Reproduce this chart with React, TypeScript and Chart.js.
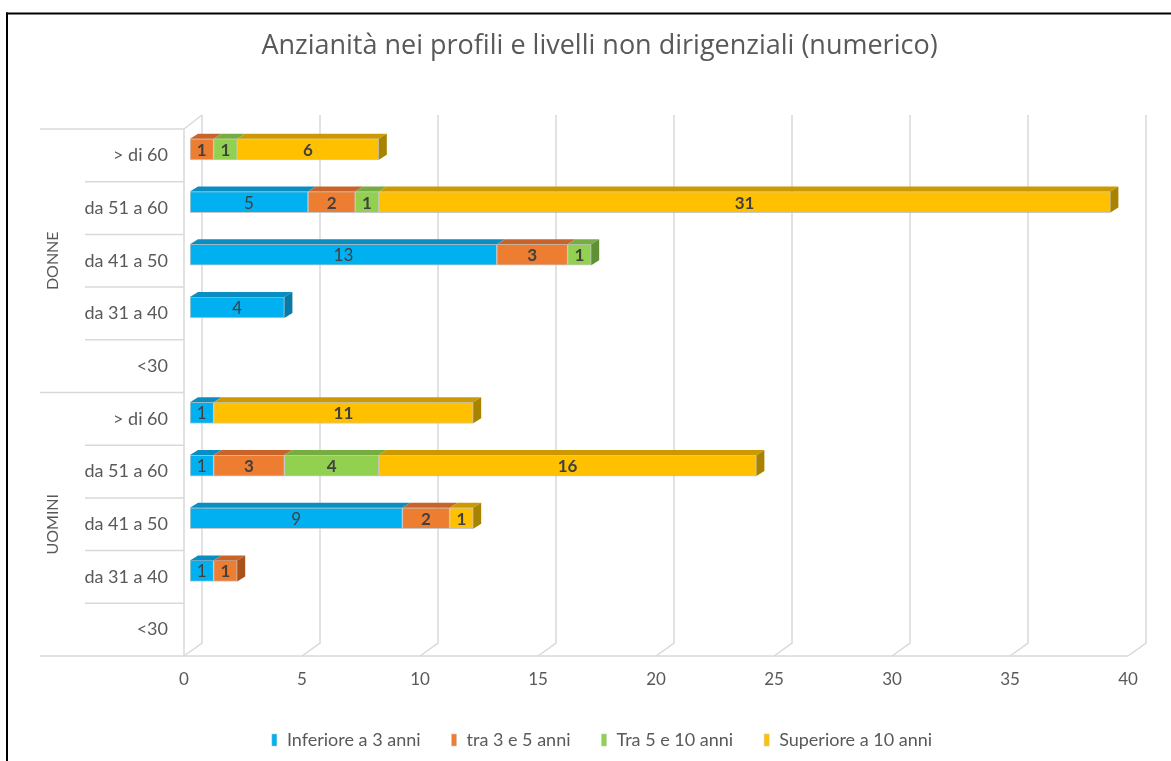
import React, { useEffect, useRef } from "react";
import { Chart, registerables } from "chart.js";

Chart.register(...registerables);

// ---------- data ----------
const categories = [
  "> di 60", "da 51 a 60", "da 41 a 50", "da 31 a 40", "<30",
  "> di 60", "da 51 a 60", "da 41 a 50", "da 31 a 40", "<30",
];
const groups = ["DONNE", "UOMINI"];
const seriesNames = ["Inferiore a 3 anni", "tra 3 e 5 anni", "Tra 5 e 10 anni", "Superiore a 10 anni"];
const inferiore3 = [0, 5, 13, 4, 0, 1, 1, 9, 1, 0];
const tra3e5 = [1, 2, 3, 0, 0, 0, 3, 2, 1, 0];
const tra5e10 = [1, 1, 1, 0, 0, 0, 4, 0, 0, 0];
const superiore10 = [6, 31, 0, 0, 0, 11, 16, 1, 0, 0];
const xTicks = [0, 5, 10, 15, 20, 25, 30, 35, 40];
const titleText = "Anzianità nei profili e livelli non dirigenziali (numerico)";

// ---------- styles ----------
const FONT = "Lato, 'Open Sans', 'Liberation Sans', sans-serif";
const TITLE_FONT = "'Open Sans', Lato, sans-serif";
const faceColors = ["#00B0F0", "#ED7D31", "#92D050", "#FFC000"];
const topColors = ["#0A8EC2", "#C8642A", "#76AC40", "#CC9A00"];
const sideColors = ["#077AA8", "#A8531C", "#609035", "#A88300"];
const labelBold = [false, true, true, true];
const GRID = "#D9D9D9";
const TEXT = "#595959";

const WALL_DX = 18;
const WALL_DY = 13;
const FRONT_SHIFT = 6; // bars sit 6px behind the front edge
const ROW_SHIFT = 6; // rows are 6px lower than bar centers
const BAR_DX = 8;
const BAR_DY = 5;

const framePlugin = {
  id: "frame3d",
  beforeDatasetsDraw(chart: any) {
    const { ctx, chartArea, scales } = chart;
    const x = scales.x;
    const rows = categories.length;
    const rowH = chartArea.height / rows;
    const frontTop = chartArea.top + ROW_SHIFT;
    const frontBot = frontTop + rows * rowH;
    const backTop = frontTop - WALL_DY - 1;
    const backBot = frontBot - WALL_DY;
    ctx.save();
    ctx.strokeStyle = GRID;
    ctx.lineWidth = 1.5;
    xTicks.forEach((v) => {
      const fx = x.getPixelForValue(v) - FRONT_SHIFT;
      const bx = fx + WALL_DX;
      ctx.beginPath();
      ctx.moveTo(bx, backTop);
      ctx.lineTo(bx, backBot);
      ctx.lineTo(fx, frontBot);
      ctx.stroke();
    });
    const fx0 = x.getPixelForValue(xTicks[0]) - FRONT_SHIFT;
    const fxN = x.getPixelForValue(xTicks[xTicks.length - 1]) - FRONT_SHIFT;
    ctx.beginPath();
    ctx.moveTo(fx0 + WALL_DX, backTop);
    ctx.lineTo(fx0, frontTop);
    ctx.lineTo(fx0, frontBot);
    ctx.lineTo(fxN, frontBot);
    ctx.stroke();
    // category separators
    for (let i = 0; i <= rows; i++) {
      const y = frontTop + i * rowH;
      const xs = i % 5 === 0 ? 40 : 85;
      ctx.beginPath();
      ctx.moveTo(xs, y);
      ctx.lineTo(fx0, y);
      ctx.stroke();
    }
    // group labels
    ctx.fillStyle = TEXT;
    ctx.font = `16px ${FONT}`;
    ctx.textAlign = "center";
    ctx.textBaseline = "middle";
    groups.forEach((g, gi) => {
      const cy = frontTop + (gi * 5 + 2.5) * rowH;
      ctx.save();
      ctx.translate(53, cy);
      ctx.rotate(-Math.PI / 2);
      ctx.fillText(g, 0, 0);
      ctx.restore();
    });
    ctx.restore();
  },
  afterDatasetsDraw(chart: any) {
    const { ctx } = chart;
    const n = chart.data.datasets.length;
    const rows = categories.length;
    ctx.save();
    for (let i = 0; i < rows; i++) {
      let last = -1;
      for (let d = 0; d < n; d++) {
        const v = chart.data.datasets[d].data[i];
        if (v != null && v > 0) last = d;
      }
      for (let d = 0; d < n; d++) {
        const v = chart.data.datasets[d].data[i];
        if (v == null || v <= 0) continue;
        const el = chart.getDatasetMeta(d).data[i];
        const p = el.getProps(["x", "y", "base", "height"], true);
        const x0 = Math.min(p.x, p.base);
        const x1 = Math.max(p.x, p.base);
        const t = p.y - p.height / 2;
        const b = p.y + p.height / 2;
        ctx.fillStyle = topColors[d];
        ctx.beginPath();
        ctx.moveTo(x0, t);
        ctx.lineTo(x1, t);
        ctx.lineTo(x1 + BAR_DX, t - BAR_DY);
        ctx.lineTo(x0 + BAR_DX, t - BAR_DY);
        ctx.closePath();
        ctx.fill();
        if (d === last) {
          ctx.fillStyle = sideColors[d];
          ctx.beginPath();
          ctx.moveTo(x1, t);
          ctx.lineTo(x1 + BAR_DX, t - BAR_DY);
          ctx.lineTo(x1 + BAR_DX, b - BAR_DY);
          ctx.lineTo(x1, b);
          ctx.closePath();
          ctx.fill();
        }
        ctx.fillStyle = "#404040";
        ctx.font = `${labelBold[d] ? "bold " : ""}17px ${FONT}`;
        ctx.textAlign = "center";
        ctx.textBaseline = "middle";
        ctx.fillText(String(v), (x0 + x1) / 2, p.y + 1);
      }
    }
    ctx.restore();
  },
  afterDraw(chart: any) {
    const { ctx } = chart;
    ctx.save();
    // outer frame
    ctx.fillStyle = "#000";
    ctx.fillRect(6, 12.5, 2, 761);
    ctx.fillRect(6, 12.5, 1171, 2);
    // legend
    ctx.font = `18px ${FONT}`;
    ctx.textBaseline = "middle";
    ctx.textAlign = "left";
    const boxW = 5, boxH = 12, gap = 10, itemGap = 31;
    const widths = chart.data.datasets.map((ds: any) => ctx.measureText(ds.label).width);
    const total = widths.reduce((a: number, w: number) => a + boxW + gap + w, 0) + itemGap * (widths.length - 1);
    let cx = 602 - total / 2;
    const cy = 740;
    chart.data.datasets.forEach((ds: any, i: number) => {
      ctx.fillStyle = ds.backgroundColor;
      ctx.fillRect(cx, cy - boxH / 2, boxW, boxH);
      ctx.strokeStyle = "#C8C8C8";
      ctx.lineWidth = 0.5;
      ctx.strokeRect(cx, cy - boxH / 2, boxW, boxH);
      ctx.fillStyle = TEXT;
      ctx.fillText(ds.label, cx + boxW + gap, cy);
      cx += boxW + gap + widths[i] + itemGap;
    });
    ctx.restore();
  },
};

export default function App() {
  const ref = useRef<HTMLCanvasElement | null>(null);
  useEffect(() => {
    document.body.style.margin = "0";
    if (!ref.current) return;
    const series = [inferiore3, tra3e5, tra5e10, superiore10];
    const chart = new Chart(ref.current, {
      type: "bar",
      data: {
        labels: categories,
        datasets: series.map((s, i) => ({
          label: seriesNames[i],
          data: s.map((v) => (v === 0 ? null : v)),
          backgroundColor: faceColors[i],
          borderColor: "rgba(190,190,190,0.85)",
          borderWidth: 1,
          borderSkipped: false,
          barThickness: 21,
        })),
      },
      options: {
        indexAxis: "y",
        responsive: false,
        animation: false,
        devicePixelRatio: 1,
        layout: { padding: { left: 65, right: 37, top: 26, bottom: 0 } },
        plugins: {
          legend: { display: false },
          tooltip: { enabled: false },
          title: {
            display: true,
            text: titleText,
            color: TEXT,
            font: { family: TITLE_FONT, size: 27, weight: "normal", lineHeight: 1.2 },
            padding: { top: 3.8, bottom: 60.8 },
          },
        },
        scales: {
          x: {
            type: "linear",
            stacked: true,
            min: 0,
            max: 40,
            afterFit: (s: any) => { s.height = 111; },
            afterBuildTicks: (s: any) => { s.ticks = xTicks.map((v) => ({ value: v })); },
            ticks: {
              color: TEXT,
              font: { family: FONT, size: 17 },
              padding: 19,
              labelOffset: -FRONT_SHIFT,
            },
            grid: { display: false, drawTicks: false },
            border: { display: false },
          },
          y: {
            type: "category",
            stacked: true,
            afterFit: (s: any) => { s.width = 125; },
            ticks: {
              color: TEXT,
              font: { family: FONT, size: 18 },
              padding: 22,
              labelOffset: ROW_SHIFT,
              autoSkip: false,
            },
            grid: { display: false, drawTicks: false },
            border: { display: false },
          },
        },
      },
      plugins: [framePlugin],
    } as any);
    return () => chart.destroy();
  }, []);
  return <canvas ref={ref} width={1171} height={761} style={{ display: "block" }} />;
}
